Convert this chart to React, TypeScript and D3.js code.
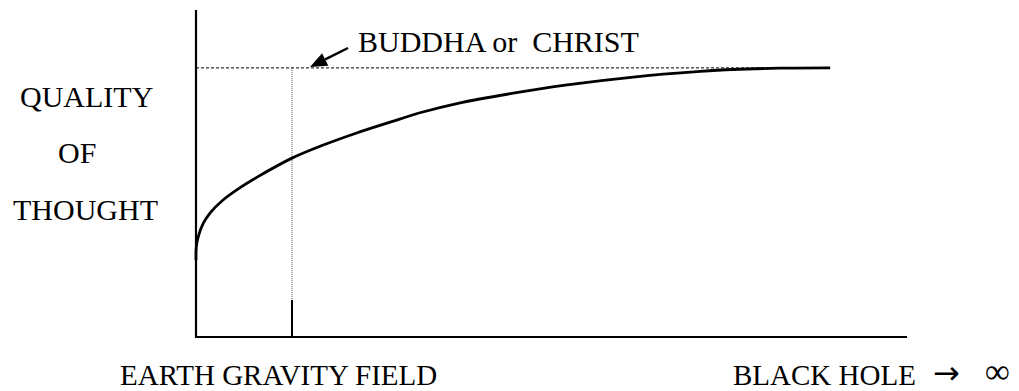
import React from "react";
import * as d3 from "d3";

// Curve: quality of thought vs gravity field (data units 0..100)
const curveX = [0, 0.04, 0.32, 1.03, 1.97, 3.8, 6.2, 8.6, 13.5, 17.9, 22.6, 27.3, 31.9, 36.7, 44.2, 52.2, 61.5, 70.9, 75.5, 82, 89.2];
const curveY = [23.5, 27.5, 30.7, 34.8, 37.9, 41.9, 45.7, 48.9, 54.7, 58.7, 62.4, 65.7, 68.8, 71.4, 74.4, 77.1, 79.5, 81.2, 81.8, 82.2, 82.3];
const buddhaLevel = [82.3];
const earthMarkX = [13.5];
const earthTickTop = [11.3];
const curveEnd = [89.2];
const yLabels = ["QUALITY", "OF", "THOUGHT"];
const xLabels = ["EARTH GRAVITY FIELD", "BLACK HOLE"];
const peakLabel = "BUDDHA or\u00A0\u00A0CHRIST";

const W = 1019;
const H = 391;
const ts: React.CSSProperties = { fontFamily: "Liberation Serif" };
const arrowFont: React.CSSProperties = { fontFamily: "DejaVu Sans" };

export default function App() {
  const x = d3.scaleLinear().domain([0, 100]).range([196, 907]);
  const y = d3.scaleLinear().domain([0, 100]).range([337, 10]);
  const pts: [number, number][] = curveX.map((v, i) => [v, curveY[i]]);
  const line = d3
    .line<[number, number]>()
    .x((d) => x(d[0]))
    .y((d) => y(d[1]))
    .curve(d3.curveCatmullRom.alpha(0.5));

  const lvl = y(buddhaLevel[0]);
  const mx = x(earthMarkX[0]);
  // arrow
  const ax1 = 348, ay1 = 48, ax2 = 310, ay2 = 67;
  const ang = Math.atan2(ay2 - ay1, ax2 - ax1);
  const hl = 17, hw = 7;
  const bx = ax2 - hl * Math.cos(ang), by = ay2 - hl * Math.sin(ang);
  const head = [
    [ax2, ay2],
    [bx + hw * Math.sin(ang), by - hw * Math.cos(ang)],
    [bx - hw * Math.sin(ang), by + hw * Math.cos(ang)],
  ]
    .map((p) => p.join(","))
    .join(" ");

  return (
    <svg
      width={W}
      height={H}
      style={{ position: "absolute", left: 0, top: 0, background: "#fff" }}
    >
      {/* dashed level line */}
      <line x1={x(0)} x2={x(curveEnd[0])} y1={lvl} y2={lvl} stroke="#000" strokeWidth={1} strokeDasharray="3,2" />
      {/* dotted vertical marker */}
      <line x1={mx} x2={mx} y1={lvl} y2={y(earthTickTop[0])} stroke="#555" strokeWidth={1} strokeDasharray="1,1" />
      <line x1={mx} x2={mx} y1={y(earthTickTop[0])} y2={y(0)} stroke="#000" strokeWidth={2} />
      {/* curve */}
      <path d={line(pts) || ""} fill="none" stroke="#000" strokeWidth={2.8} />
      {/* axes */}
      <line x1={x(0)} x2={x(0)} y1={y(100)} y2={y(0) + 1} stroke="#000" strokeWidth={2.2} />
      <line x1={x(0) - 1} x2={x(100)} y1={y(0)} y2={y(0)} stroke="#000" strokeWidth={2.2} />
      {/* arrow */}
      <line x1={ax1} y1={ay1} x2={bx} y2={by} stroke="#000" strokeWidth={2.5} />
      <polygon points={head} fill="#000" />
      <text x={358} y={52} fontSize={30} style={ts}>{peakLabel}</text>
      {/* y labels */}
      <text x={20} y={107} fontSize={30} style={ts}>{yLabels[0]}</text>
      <text x={58} y={163} fontSize={30} style={ts}>{yLabels[1]}</text>
      <text x={13} y={220} fontSize={30} style={ts}>{yLabels[2]}</text>
      {/* x labels */}
      <text x={120} y={385} fontSize={29} style={ts}>{xLabels[0]}</text>
      <text x={733} y={385} fontSize={29} style={ts}>{xLabels[1]}</text>
      <text x={933} y={384} fontSize={32} style={arrowFont}>{"\u2192"}</text>
      <text x={985} y={383} fontSize={35} style={ts}>{"\u221E"}</text>
    </svg>
  );
}
